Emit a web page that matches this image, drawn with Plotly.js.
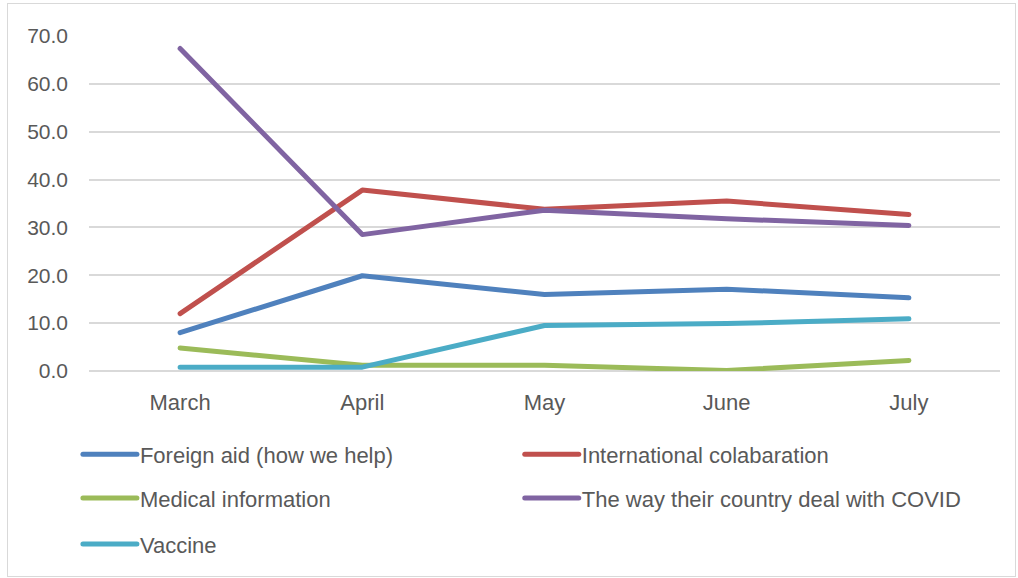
<!DOCTYPE html>
<html>
<head>
<meta charset="utf-8">
<script src="https://cdn.plot.ly/plotly-3.0.1.min.js"></script>
<style>
  html, body { margin: 0; padding: 0; background: #fff; }
  #chart { position: absolute; left: 0; top: 0; width: 1018px; height: 578px; }
  #frame { position: absolute; left: 7px; top: 3px; width: 1007px; height: 572px; border: 1px solid #d9d9d9; pointer-events: none; }
  #chart .js-line { stroke-linecap: round !important; stroke-linejoin: round !important; }
</style>
</head>
<body>
<div id="chart"></div>
<div id="frame"></div>
<script>
const months = ["March", "April", "May", "June", "July"];
const foreignAid = [8.0, 19.9, 16.0, 17.1, 15.3];
const intlCollab = [12.0, 37.8, 33.8, 35.5, 32.7];
const medicalInfo = [4.8, 1.2, 1.2, 0.1, 2.2];
const countryDeal = [67.4, 28.5, 33.6, 31.8, 30.4];
const vaccine = [0.8, 0.8, 9.5, 9.9, 10.9];

const seriesNames = ["Foreign aid (how we help)", "International colabaration", "Medical information", "The way their country deal with COVID", "Vaccine"];
const seriesValues = [foreignAid, intlCollab, medicalInfo, countryDeal, vaccine];
const seriesColors = ["#4F81BD", "#C0504D", "#9BBB59", "#8064A2", "#4BACC6"];
const seriesLegends = ["legend", "legend2", "legend3", "legend4", "legend5"];

const traces = seriesNames.map((name, i) => ({
  type: "scatter",
  mode: "lines",
  name: name,
  x: months,
  y: seriesValues[i],
  line: { color: seriesColors[i], width: 5 },
  legend: seriesLegends[i],
  hoverinfo: "x+y+name"
}));

const fam = "Liberation Sans, Arial, sans-serif";
const legendBase = {
  orientation: "h",
  xanchor: "left",
  yanchor: "middle",
  font: { family: fam, size: 22, color: "#595959" },
  bgcolor: "rgba(0,0,0,0)"
};
const colA = 0.012, colB = 0.497;
const rowY = [-0.249, -0.380, -0.517];

const layout = {
  width: 1018,
  height: 578,
  margin: { l: 89, r: 18, t: 36, b: 207, pad: 0 },
  paper_bgcolor: "#ffffff",
  plot_bgcolor: "#ffffff",
  font: { family: fam, size: 21, color: "#595959" },
  showlegend: true,
  xaxis: {
    type: "category",
    range: [-0.5, 4.5],
    showgrid: false,
    zeroline: false,
    showline: false,
    ticks: "",
    ticklabelstandoff: 16,
    tickfont: { family: fam, size: 22, color: "#595959" }
  },
  yaxis: {
    range: [0, 70],
    dtick: 10,
    tick0: 0,
    tickformat: ".1f",
    showgrid: true,
    gridcolor: "#d9d9d9",
    gridwidth: 1.5,
    zeroline: true,
    zerolinecolor: "#d9d9d9",
    zerolinewidth: 1.5,
    showline: false,
    ticks: "",
    ticklabelstandoff: 20,
    tickfont: { family: fam, size: 21, color: "#595959" }
  },
  legend: Object.assign({}, legendBase, { x: colA, y: rowY[0] }),
  legend2: Object.assign({}, legendBase, { x: colB, y: rowY[0] }),
  legend3: Object.assign({}, legendBase, { x: colA, y: rowY[1] }),
  legend4: Object.assign({}, legendBase, { x: colB, y: rowY[1] }),
  legend5: Object.assign({}, legendBase, { x: colA, y: rowY[2] })
};

function stretchLegendLines(gd) {
  gd.querySelectorAll(".infolayer [clip-path]").forEach(e => e.removeAttribute("clip-path"));
  gd.querySelectorAll(".infolayer .legendlines path.js-line").forEach(p => p.setAttribute("d", "M-17,0h54"));
}

Plotly.newPlot("chart", traces, layout, { displayModeBar: false }).then(gd => {
  stretchLegendLines(gd);
  gd.on("plotly_afterplot", () => stretchLegendLines(gd));
});
</script>
</body>
</html>
